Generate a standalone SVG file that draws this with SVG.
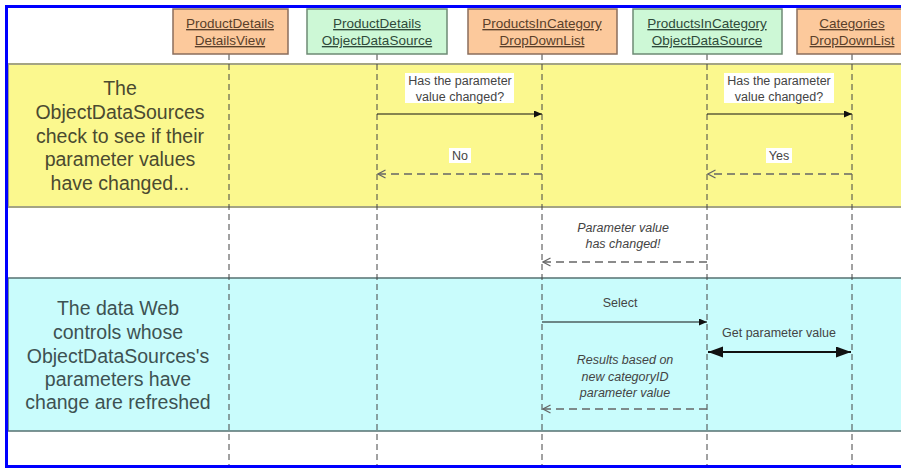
<svg xmlns="http://www.w3.org/2000/svg" width="901" height="468" viewBox="0 0 901 468">
<style>
.band-y{fill:#fbf88e;stroke:#a4a484;stroke-width:2}
.band-c{fill:#c9fcfc;stroke:#557272;stroke-width:1.5}
.bandtxt{font-family:"Liberation Sans",Arial,sans-serif;font-size:19.5px;text-anchor:middle}
.box-o{fill:#fcc99c;stroke:#8a6d5c;stroke-width:1.5}
.box-g{fill:#cdf8d6;stroke:#6d8a74;stroke-width:1.5}
.hdr{font-family:"Liberation Sans",Arial,sans-serif;font-size:13.5px;text-anchor:middle;text-decoration:underline}
.life{stroke:#444;stroke-width:1;stroke-dasharray:6 4;fill:none}
.msg{font-family:"Liberation Sans",Arial,sans-serif;font-size:12.5px;fill:#444;text-anchor:middle}
.it{font-style:italic}
.solid{stroke:#111;stroke-width:1;fill:none}
.dash{stroke:#666;stroke-width:1.5;stroke-dasharray:8 5;fill:none}
.lblbg{fill:#fff}
</style>
<defs>
<marker id="fa" markerUnits="userSpaceOnUse" markerWidth="9" markerHeight="8" refX="8" refY="3.5" orient="auto"><path d="M0,0 L8,3.5 L0,7 z" fill="#111"/></marker>
<marker id="oa" markerUnits="userSpaceOnUse" markerWidth="10" markerHeight="10" refX="8.5" refY="4.5" orient="auto"><path d="M1,0.5 L8.5,4.5 L1,8.5" fill="none" stroke="#666" stroke-width="1.2"/></marker>
<marker id="ba" markerUnits="userSpaceOnUse" markerWidth="16" markerHeight="12" refX="15" refY="5.5" orient="auto-start-reverse"><path d="M0,0 L15,5.5 L0,11 z" fill="#111"/></marker>
</defs>
<rect x="0" y="0" width="901" height="468" fill="#fff"/>
<g id="bands">
<rect class="band-y" x="8" y="64" width="900" height="143"/>
<rect class="band-c" x="8" y="278" width="900" height="153"/>
<text class="bandtxt" fill="#4a4a30"><tspan x="120" y="95">The</tspan><tspan x="120" y="119">ObjectDataSources</tspan><tspan x="120" y="143">check to see if their</tspan><tspan x="120" y="166">parameter values</tspan><tspan x="120" y="190">have changed...</tspan></text>
<text class="bandtxt" fill="#3d5252"><tspan x="118" y="315">The data Web</tspan><tspan x="118" y="339">controls whose</tspan><tspan x="118" y="363">ObjectDataSources's</tspan><tspan x="118" y="386">parameters have</tspan><tspan x="118" y="409">change are refreshed</tspan></text>
</g>
<g id="lifelines">
<line class="life" x1="229" y1="54" x2="229" y2="466"/>
<line class="life" x1="377" y1="54" x2="377" y2="466"/>
<line class="life" x1="542" y1="54" x2="542" y2="466"/>
<line class="life" x1="707" y1="54" x2="707" y2="466"/>
<line class="life" x1="852" y1="54" x2="852" y2="466"/>
</g>
<g id="node-detailsview">
<rect class="box-o" x="173" y="9" width="115" height="45"/>
<text class="hdr" fill="#5a3f2a"><tspan x="230" y="28">ProductDetails</tspan><tspan x="230" y="45">DetailsView</tspan></text>
</g>
<g id="node-pd-ods">
<rect class="box-g" x="307" y="9" width="140" height="45"/>
<text class="hdr" fill="#2f4a3a"><tspan x="377" y="28">ProductDetails</tspan><tspan x="377" y="45">ObjectDataSource</tspan></text>
</g>
<g id="node-pic-ddl">
<rect class="box-o" x="468" y="9" width="149" height="45"/>
<text class="hdr" fill="#5a3f2a"><tspan x="542" y="28">ProductsInCategory</tspan><tspan x="542" y="45">DropDownList</tspan></text>
</g>
<g id="node-pic-ods">
<rect class="box-g" x="633" y="9" width="149" height="45"/>
<text class="hdr" fill="#2f4a3a"><tspan x="707" y="28">ProductsInCategory</tspan><tspan x="707" y="45">ObjectDataSource</tspan></text>
</g>
<g id="node-cat-ddl">
<rect class="box-o" x="797" y="9" width="110" height="45"/>
<text class="hdr" fill="#5a3f2a"><tspan x="852" y="28">Categories</tspan><tspan x="852" y="45">DropDownList</tspan></text>
</g>
<g id="connectors">
<rect class="lblbg" x="405" y="73" width="109" height="30"/>
<text class="msg"><tspan x="460" y="85">Has the parameter</tspan><tspan x="460" y="101">value changed?</tspan></text>
<line class="solid" x1="377" y1="114" x2="542" y2="114" marker-end="url(#fa)"/>
<rect class="lblbg" x="449" y="148" width="22" height="15"/>
<text class="msg" x="460" y="160">No</text>
<line class="dash" x1="542" y1="174" x2="378" y2="174" marker-end="url(#oa)"/>

<rect class="lblbg" x="724" y="73" width="110" height="30"/>
<text class="msg"><tspan x="779" y="85">Has the parameter</tspan><tspan x="779" y="101">value changed?</tspan></text>
<line class="solid" x1="707" y1="114" x2="852" y2="114" marker-end="url(#fa)"/>
<rect class="lblbg" x="766" y="148" width="26" height="15"/>
<text class="msg" x="779" y="160">Yes</text>
<line class="dash" x1="852" y1="174" x2="708" y2="174" marker-end="url(#oa)"/>

<text class="msg it"><tspan x="623" y="232">Parameter value</tspan><tspan x="623" y="248">has changed!</tspan></text>
<line class="dash" x1="707" y1="262" x2="543" y2="262" marker-end="url(#oa)"/>

<text class="msg" x="620" y="307">Select</text>
<line class="solid" x1="542" y1="322" x2="707" y2="322" marker-end="url(#fa)"/>

<text class="msg" x="779" y="337">Get parameter value</text>
<line x1="708" y1="352" x2="851" y2="352" stroke="#111" stroke-width="2" marker-start="url(#ba)" marker-end="url(#ba)"/>

<text class="msg it"><tspan x="625" y="364">Results based on</tspan><tspan x="625" y="381">new categoryID</tspan><tspan x="625" y="397">parameter value</tspan></text>
<line class="dash" x1="707" y1="409" x2="543" y2="409" marker-end="url(#oa)"/>
</g>
<path d="M901,6.5 H6.5 V466.5 H901" fill="none" stroke="#0000ff" stroke-width="3"/>
</svg>
